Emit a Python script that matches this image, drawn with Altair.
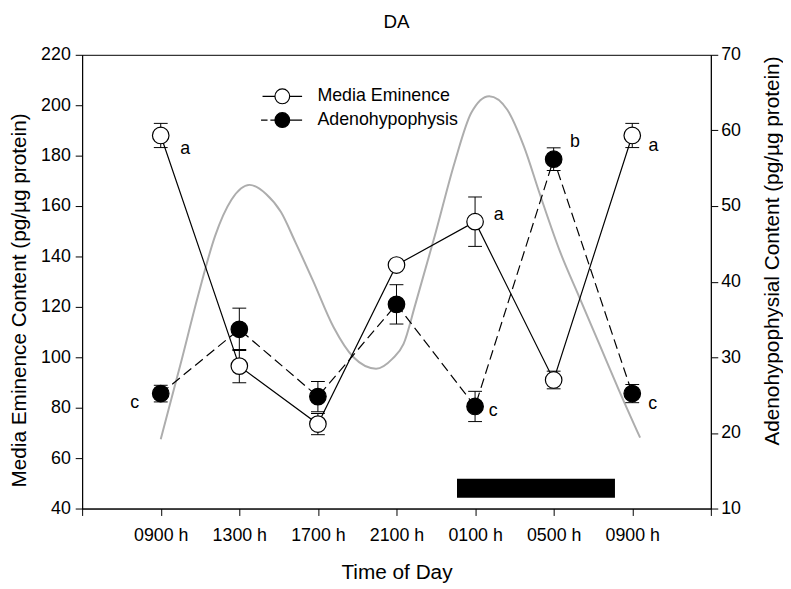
import altair as alt
import pandas as pd

# ---------------- data ----------------
time_labels = ["0900 h", "1300 h", "1700 h", "2100 h", "0100 h", "0500 h", "0900 h"]
time_idx = [0, 1, 2, 3, 4, 5, 6]

me_mean = [188.0, 96.5, 73.5, 136.6, 153.8, 91.0, 188.0]   # left axis
me_sem = [4.8, 6.6, 4.2, 1.5, 9.8, 3.5, 4.8]

ah_mean = [25.2, 33.7, 24.8, 37.0, 23.5, 56.2, 25.2]       # right axis
ah_sem = [1.1, 2.8, 2.0, 2.6, 2.0, 1.5, 1.2]

curve_x = [0.0, 0.25, 0.48, 0.69, 0.90, 1.13, 1.34, 1.53, 1.71, 1.94, 2.20, 2.45,
           2.74, 2.95, 3.09, 3.24, 3.49, 3.74, 3.95, 4.18, 4.41, 4.62, 4.83, 5.08,
           5.33, 5.58, 5.83, 6.10]
curve_y = [67.5, 97.0, 125.0, 148.0, 162.5, 168.4, 164.8, 157.6, 145.9, 130.2, 111.9, 100.1,
           95.5, 99.5, 105.3, 121.0, 148.5, 177.3, 196.9, 203.6, 198.2, 183.8, 164.2, 142.0,
           123.6, 105.3, 87.0, 68.1]

dark_start = [3.77]
dark_end = [5.78]
dark_low = [44.3]
dark_high = [51.8]

letter_text = ["a", "c", "a", "c", "b", "a", "c"]
letter_x = [0.31, -0.33, 4.30, 4.23, 5.27, 6.27, 6.26]
letter_y = [182.7, 82.0, 156.3, 78.8, 185.5, 184.0, 81.6]

series_names = ["Media Eminence", "Adenohypophysis"]

FONT = "Liberation Sans"

# ---------------- tables ----------------
me_df = pd.DataFrame({"t": time_idx, "v": me_mean, "s": me_sem})
me_df["lo"] = me_df["v"] - me_df["s"]
me_df["hi"] = me_df["v"] + me_df["s"]
me_caps = pd.concat([me_df[["t"]].assign(c=me_df["lo"]), me_df[["t"]].assign(c=me_df["hi"])])

ah_df = pd.DataFrame({"t": time_idx, "v": ah_mean, "s": ah_sem})
ah_df["lo"] = ah_df["v"] - ah_df["s"]
ah_df["hi"] = ah_df["v"] + ah_df["s"]
ah_caps = pd.concat([ah_df[["t"]].assign(c=ah_df["lo"]), ah_df[["t"]].assign(c=ah_df["hi"])])

curve_df = pd.DataFrame({"t": curve_x, "v": curve_y})
dark_df = pd.DataFrame({"x1": dark_start, "x2": dark_end, "y1": dark_low, "y2": dark_high})
letters_df = pd.DataFrame({"t": letter_x, "v": letter_y, "txt": letter_text})
legend_df = pd.DataFrame({"series": series_names})

# ---------------- scales / axes ----------------
label_expr = ("datum.value >= 0 && datum.value <= 6 ? ["
              + ",".join("'" + s + "'" for s in time_labels)
              + "][datum.value] : ''")

x_scale = alt.Scale(domain=[-1, 7], nice=False, zero=False)
x_axis = alt.Axis(values=list(range(-1, 8)), labelExpr=label_expr, title="Time of Day",
                  grid=False, tickSize=7, labelPadding=11, titlePadding=18,
                  labelFontSize=18, titleFontSize=21, labelOverlap=False, labelFlush=False)


def X(field):
    return alt.X(field, type="quantitative", scale=x_scale, axis=x_axis)


yl_scale = alt.Scale(domain=[40, 220], nice=False, zero=False)
yl_axis = alt.Axis(values=list(range(40, 221, 20)),
                   title="Media Eminence Content (pg/\u00b5g protein)",
                   grid=False, tickSize=7, labelPadding=5, titlePadding=11,
                   labelFontSize=18, titleFontSize=21, titleY=248)


def YL(field):
    return alt.Y(field, type="quantitative", scale=yl_scale, axis=yl_axis)


yr_scale = alt.Scale(domain=[10, 70], nice=False, zero=False)
yr_axis = alt.Axis(orient="right", values=list(range(10, 71, 10)),
                   title="Adenohypophysial Content (pg/\u00b5g protein)",
                   grid=False, tickSize=7, labelPadding=3, titlePadding=21,
                   labelFontSize=18, titleFontSize=21, titleAngle=-90,
                   titleBaseline="top", titleY=198)


def YR(field):
    return alt.Y(field, type="quantitative", scale=yr_scale, axis=yr_axis)


# ---------------- left (Media Eminence) layers ----------------
curve = alt.Chart(curve_df).mark_line(color="#adadad", strokeWidth=2,
                                      interpolate="monotone").encode(
    x=X("t"), y=YL("v"))

dark = alt.Chart(dark_df).mark_rect(color="black").encode(
    x=X("x1"), x2="x2", y=YL("y1"), y2="y2")

me_line = alt.Chart(me_df).mark_line(color="black", strokeWidth=1.2).encode(
    x=X("t"), y=YL("v"))
me_err = alt.Chart(me_df).mark_rule(color="black", strokeWidth=1).encode(
    x=X("t"), y=YL("lo"), y2="hi")
me_cap = alt.Chart(me_caps).mark_tick(orient="horizontal", size=14, thickness=1,
                                      color="black", opacity=1).encode(
    x=X("t"), y=YL("c"))
me_pts = alt.Chart(me_df).mark_point(shape="circle", filled=True, fill="white",
                                     stroke="black", strokeWidth=1.2, size=280,
                                     opacity=1).encode(x=X("t"), y=YL("v"))

letters = alt.Chart(letters_df).mark_text(font=FONT, fontSize=18, color="black",
                                          align="center", baseline="middle").encode(
    x=X("t"), y=YL("v"), text="txt:N")

path_me = ("M-1.74,0L-0.65,0M0.65,0L1.74,0"
           "M-0.65,0A0.65,0.65,0,1,1,0.65,0A0.65,0.65,0,1,1,-0.65,0Z")
path_ah = ("M-1.87,0L-1.3,0M-1.05,0L-0.65,0M0.65,0L1.74,0"
           "M-0.65,0A0.65,0.65,0,1,1,0.65,0A0.65,0.65,0,1,1,-0.65,0Z")

leg = alt.Legend(title=None, orient="none", legendX=190, legendY=29.5,
                 symbolSize=529, symbolStrokeColor="black", symbolStrokeWidth=1.2,
                 symbolOpacity=1, labelFontSize=18, labelFont=FONT, labelColor="black",
                 labelOffset=23, padding=0, rowPadding=1)

legend_layer = alt.Chart(legend_df).mark_point(opacity=0, filled=True).encode(
    x=alt.value(0), y=alt.value(0),
    fill=alt.Fill("series:N", scale=alt.Scale(domain=series_names,
                                              range=["white", "black"]), legend=leg),
    stroke=alt.Stroke("series:N", scale=alt.Scale(domain=series_names,
                                                  range=["black", "black"]), legend=leg),
    shape=alt.Shape("series:N", scale=alt.Scale(domain=series_names,
                                                range=[path_me, path_ah]), legend=leg),
)

left = alt.layer(curve, dark, me_line, me_err, me_cap, me_pts, letters, legend_layer)

# ---------------- right (Adenohypophysis) layers ----------------
ah_line = alt.Chart(ah_df).mark_line(color="black", strokeWidth=1.2,
                                     strokeDash=[10, 5]).encode(x=X("t"), y=YR("v"))
ah_err = alt.Chart(ah_df).mark_rule(color="black", strokeWidth=1).encode(
    x=X("t"), y=YR("lo"), y2="hi")
ah_cap = alt.Chart(ah_caps).mark_tick(orient="horizontal", size=14, thickness=1,
                                      color="black", opacity=1).encode(
    x=X("t"), y=YR("c"))
ah_pts = alt.Chart(ah_df).mark_point(shape="circle", filled=True, fill="black",
                                     stroke="black", strokeWidth=1.2, size=280,
                                     opacity=1).encode(x=X("t"), y=YR("v"))

right = alt.layer(ah_line, ah_err, ah_cap, ah_pts)

chart = (
    alt.layer(left, right)
    .resolve_scale(y="independent", fill="independent", shape="independent",
                   stroke="independent")
    .properties(
        width=636, height=459,
        title=alt.TitleParams("DA", font=FONT, fontSize=19, fontWeight="normal",
                              color="black", anchor="middle", frame="group", offset=14),
        padding={"left": 0, "top": 2, "right": 0, "bottom": 0},
        background="white",
    )
    .configure_view(stroke="black", strokeWidth=1)
    .configure_axis(labelFont=FONT, titleFont=FONT, labelColor="black",
                    titleColor="black", domainColor="black", tickColor="black",
                    titleFontWeight="normal", domainWidth=1, tickWidth=1)
)

chart.save("out.html", embed_options={"renderer": "svg", "actions": False})
